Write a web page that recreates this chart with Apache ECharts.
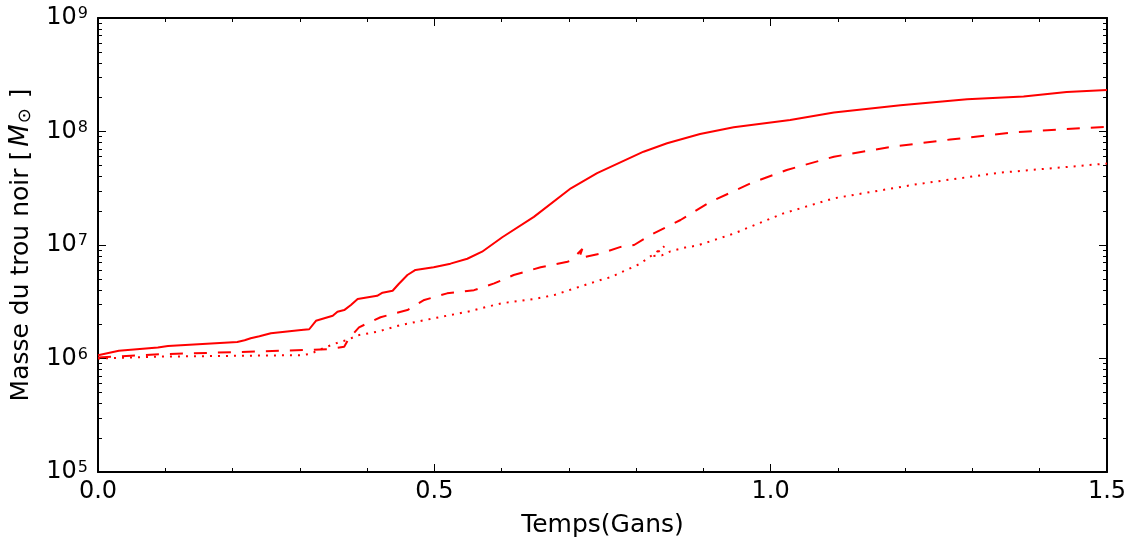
<!DOCTYPE html>
<html>
<head>
<meta charset="utf-8">
<script src="https://cdn.jsdelivr.net/npm/echarts@6/dist/echarts.min.js"></script>
<style>
html,body{margin:0;padding:0;background:#fff;}
#chart{width:1131px;height:543px;}
</style>
</head>
<body>
<div id="chart"></div>
<script>
// Time (Gyr) and black-hole mass (solar masses)
const solidT = [0.0, 0.031, 0.089, 0.104, 0.207, 0.218, 0.227, 0.240, 0.257, 0.302, 0.314, 0.324, 0.349, 0.356, 0.366, 0.376, 0.386, 0.415, 0.423, 0.438, 0.447, 0.460, 0.472, 0.499, 0.524, 0.549, 0.571, 0.601, 0.648, 0.703, 0.742, 0.811, 0.846, 0.895, 0.945, 1.029, 1.094, 1.193, 1.292, 1.376, 1.440, 1.5];
const solidM = [1.07e6, 1.17e6, 1.25e6, 1.29e6, 1.40e6, 1.45e6, 1.51e6, 1.57e6, 1.67e6, 1.78e6, 1.81e6, 2.15e6, 2.38e6, 2.58e6, 2.67e6, 2.96e6, 3.34e6, 3.57e6, 3.80e6, 3.95e6, 4.53e6, 5.44e6, 6.03e6, 6.37e6, 6.85e6, 7.57e6, 8.73e6, 1.17e7, 1.77e7, 3.16e7, 4.29e7, 6.64e7, 7.87e7, 9.5e7, 1.09e8, 1.26e8, 1.47e8, 1.70e8, 1.92e8, 2.03e8, 2.23e8, 2.32e8];

const dashedT = [0.0, 0.094, 0.207, 0.311, 0.341, 0.366, 0.373, 0.388, 0.398, 0.420, 0.460, 0.485, 0.519, 0.559, 0.589, 0.618, 0.658, 0.698, 0.703, 0.720, 0.715, 0.747, 0.777, 0.797, 0.821, 0.866, 0.910, 0.970, 1.024, 1.094, 1.178, 1.267, 1.366, 1.5];
const dashedM = [1.02e6, 1.09e6, 1.14e6, 1.19e6, 1.21e6, 1.27e6, 1.50e6, 1.88e6, 2.01e6, 2.31e6, 2.67e6, 3.28e6, 3.75e6, 4.0e6, 4.59e6, 5.44e6, 6.37e6, 7.12e6, 7.3e6, 9.23e6, 7.64e6, 8.42e6, 9.62e6, 1.0e7, 1.22e7, 1.66e7, 2.39e7, 3.49e7, 4.58e7, 6.0e7, 7.3e7, 8.5e7, 9.9e7, 1.10e8];

const dottedT = [0.0, 0.094, 0.302, 0.316, 0.336, 0.358, 0.371, 0.386, 0.415, 0.450, 0.499, 0.549, 0.599, 0.648, 0.678, 0.707, 0.747, 0.762, 0.806, 0.842, 0.826, 0.838, 0.851, 0.873, 0.891, 0.945, 1.019, 1.094, 1.217, 1.341, 1.5];
const dottedM = [1.0e6, 1.04e6, 1.07e6, 1.10e6, 1.24e6, 1.39e6, 1.46e6, 1.60e6, 1.72e6, 1.97e6, 2.26e6, 2.58e6, 3.06e6, 3.34e6, 3.62e6, 4.12e6, 4.92e6, 5.2e6, 6.84e6, 9.73e6, 8.0e6, 8.1e6, 8.8e6, 9.5e6, 9.9e6, 1.26e7, 1.90e7, 2.58e7, 3.43e7, 4.34e7, 5.22e7];

const xTitle = 'Temps(Gans)';
const yMin = 1e5, yMax = 1e9;
const yMinorTicks = [];
for (let e = 5; e < 9; e++) for (let k = 2; k <= 9; k++) yMinorTicks.push(k * Math.pow(10, e));

const pairs = (t, m) => t.map((v, i) => [v, m[i]]);
const FONT = 'DejaVu Sans';
const black = '#000';

const chart = echarts.init(document.getElementById('chart'), null, {renderer: 'canvas'});

const xBase = (pos, showLabel) => ({
  type: 'value', position: pos, min: 0, max: 1.5, interval: 0.5,
  axisLine: {show: true, onZero: false, lineStyle: {color: black, width: 2}},
  axisTick: {show: true, inside: true, length: 8, lineStyle: {color: black, width: 1}},
  minorTick: {show: true, splitNumber: 5, length: 4, lineStyle: {color: black, width: 1}},
  splitLine: {show: false}, minorSplitLine: {show: false},
  axisLabel: {show: showLabel, formatter: v => v.toFixed(1), fontFamily: FONT, fontSize: 24, color: black, margin: 8}
});

const yMajor = (pos, showLabel) => ({
  type: 'log', logBase: 10, position: pos, min: yMin, max: yMax,
  axisLine: {show: true, lineStyle: {color: black, width: 2}},
  axisTick: {show: true, inside: true, length: 8, lineStyle: {color: black, width: 1}},
  splitLine: {show: false},
  axisLabel: {
    show: showLabel, margin: 10, color: black, fontFamily: FONT,
    formatter: v => '{b|10}{s|' + Math.round(Math.log10(v)) + '}',
    rich: {
      b: {fontSize: 24, fontFamily: FONT, color: black},
      s: {fontSize: 16, fontFamily: FONT, color: black, verticalAlign: 'top', padding: [0, 0, 4, 1]}
    }
  }
});
const yMinor = (pos) => ({
  type: 'log', logBase: 10, position: pos, min: yMin, max: yMax,
  axisLine: {show: false},
  axisTick: {show: true, inside: true, length: 4, customValues: yMinorTicks, lineStyle: {color: black, width: 1}},
  axisLabel: {show: false}, splitLine: {show: false}
});

const option = {
  animation: false,
  backgroundColor: '#fff',
  grid: {left: 97, right: 24, top: 18, bottom: 71, containLabel: false},
  xAxis: [
    Object.assign(xBase('bottom', true), {
      name: xTitle, nameLocation: 'middle', nameGap: 41,
      nameTextStyle: {fontFamily: FONT, fontSize: 25, color: black}
    }),
    xBase('top', false)
  ],
  yAxis: [
    Object.assign(yMajor('left', true), {
      name: '{n|Masse du trou noir [}{m|M}{u|⊙}{n| ]}',
      nameLocation: 'middle', nameGap: 64, nameRotate: 90,
      nameTextStyle: {
        fontFamily: FONT, fontSize: 25, color: black,
        rich: {
          n: {fontFamily: FONT, fontSize: 25, color: black},
          m: {fontFamily: FONT, fontSize: 26, fontStyle: 'italic', color: black, padding: [0, 1, 0, 4]},
          u: {fontFamily: FONT, fontSize: 18, color: black, verticalAlign: 'bottom', padding: [0, 2, 0, 0]}
        }
      }
    }),
    yMinor('left'),
    yMajor('right', false),
    yMinor('right')
  ],
  series: [
    {type: 'line', xAxisIndex: 0, yAxisIndex: 0, data: pairs(solidT, solidM), showSymbol: false, clip: true,
     lineStyle: {color: '#ff0000', width: 2, type: 'solid'}},
    {type: 'line', xAxisIndex: 0, yAxisIndex: 0, data: pairs(dashedT, dashedM), showSymbol: false, clip: true,
     lineStyle: {color: '#ff0000', width: 2, type: [13, 11], cap: 'butt'}},
    {type: 'line', xAxisIndex: 0, yAxisIndex: 0, data: pairs(dottedT, dottedM), showSymbol: false, clip: true,
     lineStyle: {color: '#ff0000', width: 2, type: [2, 6], cap: 'butt'}}
  ]
};
chart.setOption(option);
</script>
</body>
</html>
